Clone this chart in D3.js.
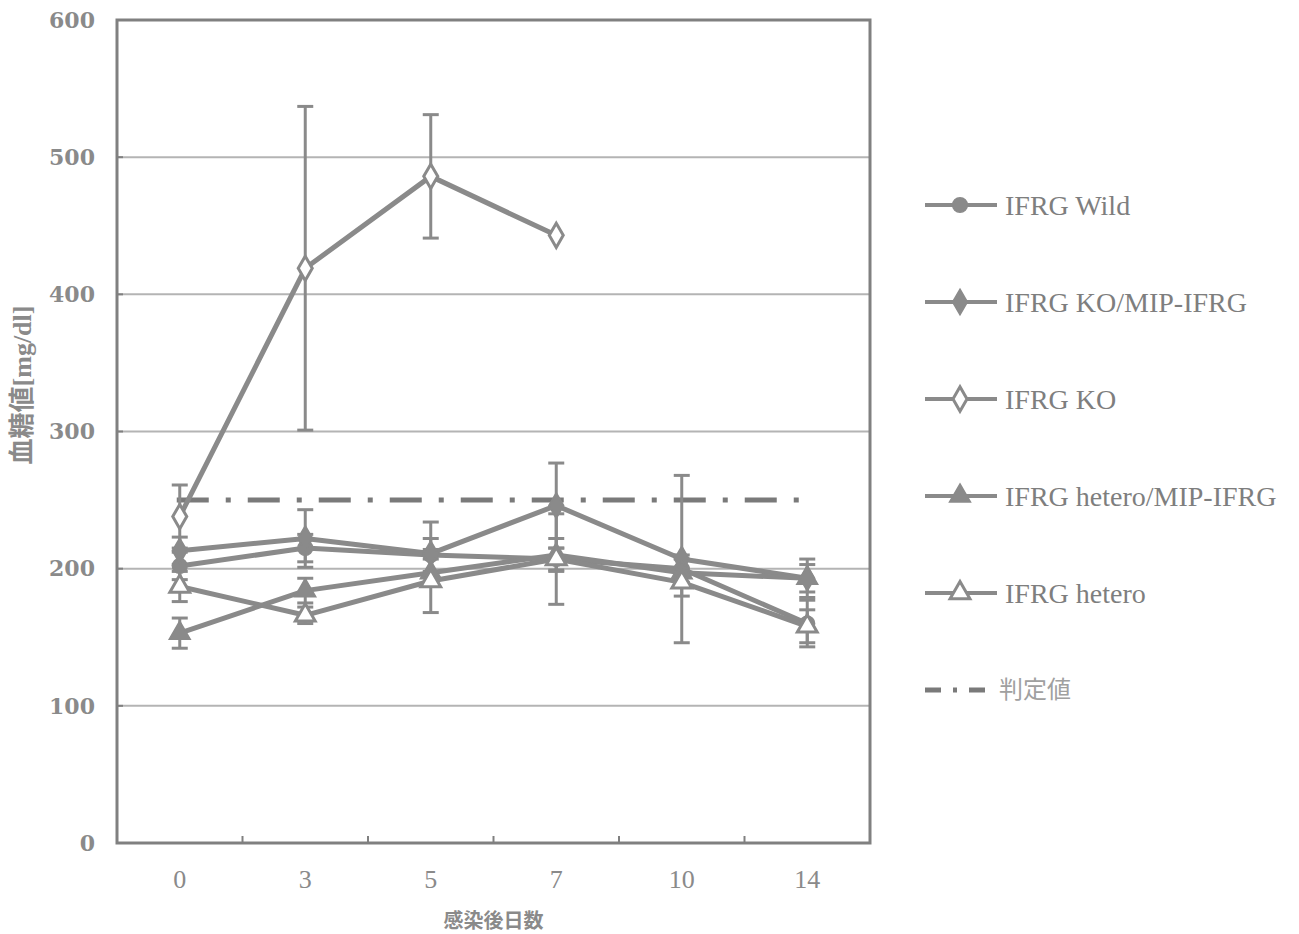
<!DOCTYPE html>
<html>
<head>
<meta charset="utf-8">
<script src="https://cdn.jsdelivr.net/npm/d3@7"></script>
<style>
  body { margin: 0; background: #fff; }
  text { fill: #8a8a8a; }
</style>
</head>
<body>
<script>
// data
const days = ['0', '3', '5', '7', '10', '14'];
const yTicks = [0, 100, 200, 300, 400, 500, 600];

const seriesNames = ['IFRG Wild', 'IFRG KO/MIP-IFRG', 'IFRG KO', 'IFRG hetero/MIP-IFRG', 'IFRG hetero'];
const seriesSymbols = ['circle', 'diamond', 'diamondOpen', 'triangle', 'triangleOpen'];

const wildValues = [202, 215, 210, 207, 200, 160];
const wildErrors = [10, 10, 12, 8, 10, 17];
const koMipValues = [213, 222, 211, 246, 207, 193];
const koMipErrors = [10, 21, 23, 31, 61, 14];
const koValues = [238, 419, 486, 443, null, null];
const koErrors = [23, 118, 45, 0, null, null];
const hetMipValues = [153, 184, 197, 210, 197, 193];
const hetMipErrors = [11, 9, 10, 12, 10, 10];
const hetValues = [187, 166, 191, 207, 190, 158];
const hetErrors = [11, 6, 23, 33, 10, 12];

const thresholdName = '判定値';
const thresholdValue = 250;

const yTitle = '血糖値[mg/dl]';
const xTitle = '感染後日数';

const allValues = [wildValues, koMipValues, koValues, hetMipValues, hetValues];
const allErrors = [wildErrors, koMipErrors, koErrors, hetMipErrors, hetErrors];

const W = 1299, H = 934;
const grey = '#8a8a8a';
const plotL = 117, plotR = 870, plotT = 20, plotB = 843;

let svg = d3.select('body').append('svg')
    .attr('width', W)
    .attr('height', H);

let x = d3.scaleBand().domain(days).range([plotL, plotR]);
let y = d3.scaleLinear().domain([0, 600]).range([plotB, plotT]);
let cx = d => x(d) + x.bandwidth() / 2;

// gridlines
svg.selectAll('.grid')
    .data(yTicks.filter(t => t > 0 && t < 600))
    .enter().append('line')
    .attr('x1', plotL).attr('x2', plotR)
    .attr('y1', d => y(d)).attr('y2', d => y(d))
    .style('stroke', '#b4b4b4')
    .style('stroke-width', 2);

// threshold line
svg.append('line')
    .attr('x1', cx(days[0]) - 3).attr('x2', cx(days[days.length - 1]) + 3)
    .attr('y1', y(thresholdValue)).attr('y2', y(thresholdValue))
    .style('stroke', '#7a7a7a')
    .style('stroke-width', 5)
    .style('stroke-dasharray', '32,17,5,17');

function symbolPath(kind, size) {
    let type = d3.symbolCircle;
    if (kind.startsWith('diamond')) type = d3.symbolDiamond;
    if (kind.startsWith('triangle')) type = d3.symbolTriangle;
    return d3.symbol().type(type).size(size)();
}
let symbolSize = {circle: 170, diamond: 190, diamondOpen: 170, triangle: 190, triangleOpen: 170};

let series = seriesNames.map((name, i) => ({
    name: name,
    kind: seriesSymbols[i],
    points: days.map((d, j) => ({day: d, v: allValues[i][j], e: allErrors[i][j]}))
        .filter(p => p.v != null)
}));

// error bars
series.forEach(s => {
    let g = svg.append('g');
    s.points.filter(p => p.e > 0).forEach(p => {
        let px = cx(p.day);
        g.append('line')
            .attr('x1', px).attr('x2', px)
            .attr('y1', y(p.v - p.e)).attr('y2', y(p.v + p.e))
            .style('stroke', grey).style('stroke-width', 3);
        [p.v - p.e, p.v + p.e].forEach(v => {
            g.append('line')
                .attr('x1', px - 8).attr('x2', px + 8)
                .attr('y1', y(v)).attr('y2', y(v))
                .style('stroke', grey).style('stroke-width', 3);
        });
    });
});

// lines
let line = d3.line().x(p => cx(p.day)).y(p => y(p.v));
series.forEach(s => {
    svg.append('path')
        .datum(s.points)
        .attr('d', line)
        .style('fill', 'none')
        .style('stroke', grey)
        .style('stroke-width', 5)
        .style('stroke-linejoin', 'round');
});

// markers
series.forEach(s => {
    let open = s.kind.endsWith('Open');
    svg.selectAll(null)
        .data(s.points)
        .enter().append('path')
        .attr('d', symbolPath(s.kind, symbolSize[s.kind]))
        .attr('transform', p => `translate(${cx(p.day)},${y(p.v)})`)
        .style('fill', open ? '#fff' : grey)
        .style('stroke', grey)
        .style('stroke-width', open ? 3 : 1.5);
});

// frame
svg.append('rect')
    .attr('x', plotL).attr('y', plotT)
    .attr('width', plotR - plotL).attr('height', plotB - plotT)
    .style('fill', 'none')
    .style('stroke', '#808080')
    .style('stroke-width', 3);

// y ticks and labels
svg.selectAll('.ytick')
    .data(yTicks)
    .enter().append('line')
    .attr('x1', plotL).attr('x2', plotL + 6)
    .attr('y1', d => y(d)).attr('y2', d => y(d))
    .style('stroke', '#808080').style('stroke-width', 2);
svg.selectAll('.ylabel')
    .data(yTicks)
    .enter().append('text')
    .attr('x', 95)
    .attr('y', d => y(d))
    .attr('dy', '0.35em')
    .attr('text-anchor', 'end')
    .style('font-family', '"DejaVu Serif", serif')
    .style('font-size', '22px')
    .style('font-weight', 'bold')
    .text(d => d);

// x ticks at category boundaries
svg.selectAll('.xtick')
    .data(days.slice(1))
    .enter().append('line')
    .attr('x1', d => x(d)).attr('x2', d => x(d))
    .attr('y1', plotB).attr('y2', plotB - 7)
    .style('stroke', '#808080').style('stroke-width', 2);
svg.selectAll('.xlabel')
    .data(days)
    .enter().append('text')
    .attr('x', d => cx(d))
    .attr('y', 888)
    .attr('text-anchor', 'middle')
    .style('font-family', '"Liberation Serif", serif')
    .style('font-size', '26px')
    .text(d => d);

// axis titles
svg.append('text')
    .attr('x', (plotL + plotR) / 2)
    .attr('y', 928)
    .attr('text-anchor', 'middle')
    .style('font-family', '"Noto Sans CJK JP", sans-serif')
    .style('font-size', '20px')
    .style('font-weight', 'bold')
    .text(xTitle);
svg.append('text')
    .attr('transform', 'translate(31,385) rotate(-90)')
    .attr('text-anchor', 'middle')
    .style('font-family', '"Liberation Serif", "Noto Sans CJK JP", serif')
    .style('font-size', '26px')
    .style('font-weight', 'bold')
    .text(yTitle);

// legend
let legendY = d3.scalePoint().domain(d3.range(6)).range([205, 690]);
series.forEach((s, i) => {
    let ly = legendY(i);
    let open = s.kind.endsWith('Open');
    svg.append('line')
        .attr('x1', 925).attr('x2', 997)
        .attr('y1', ly).attr('y2', ly)
        .style('stroke', grey).style('stroke-width', 4);
    svg.append('path')
        .attr('d', symbolPath(s.kind, symbolSize[s.kind]))
        .attr('transform', `translate(960,${ly})`)
        .style('fill', open ? '#fff' : grey)
        .style('stroke', grey)
        .style('stroke-width', open ? 3 : 1.5);
    svg.append('text')
        .attr('x', 1005).attr('y', ly)
        .attr('dy', '0.35em')
        .style('font-family', '"Liberation Serif", serif')
        .style('font-size', '28px')
        .style('fill', '#7e7e7e')
        .text(s.name);
});
let ty = legendY(5);
svg.append('line')
    .attr('x1', 925).attr('x2', 997)
    .attr('y1', ty).attr('y2', ty)
    .style('stroke', '#7a7a7a').style('stroke-width', 5)
    .style('stroke-dasharray', '16,12,4,12');
svg.append('text')
    .attr('x', 999).attr('y', ty)
    .attr('dy', '0.35em')
    .style('font-family', '"Noto Sans CJK JP", sans-serif')
    .style('font-size', '24px')
    .style('fill', '#a0a0a0')
    .text(thresholdName);
</script>
</body>
</html>
